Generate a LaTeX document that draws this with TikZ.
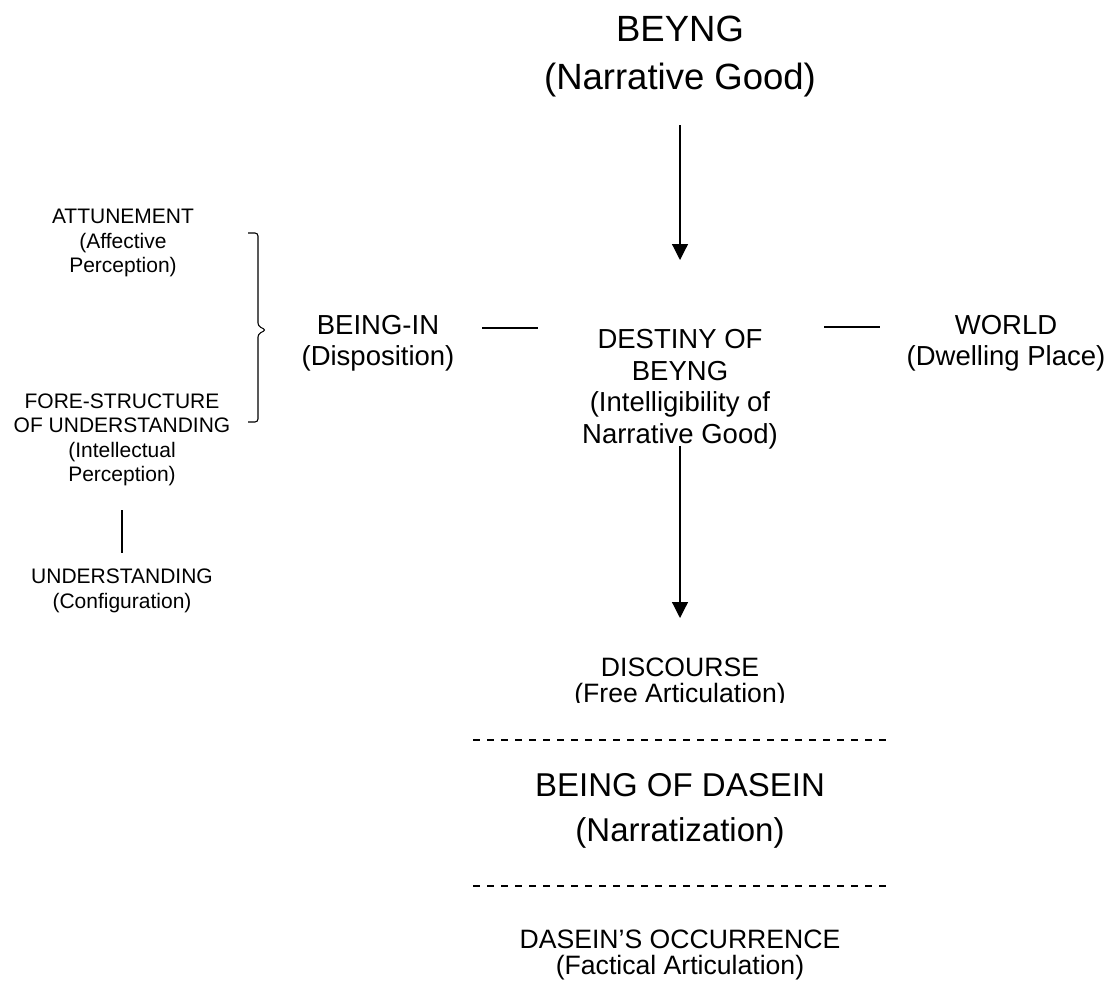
\documentclass[tikz,border=0pt]{standalone}
\usepackage{fontspec}
\setmainfont{Liberation Sans}
\usetikzlibrary{arrows.meta}

\begin{document}
\begin{tikzpicture}[x=1pt,y=-1pt,
  every node/.style={inner sep=0pt, outer sep=0pt, align=center},
  huge/.style={font=\fontsize{36.5}{48}\selectfont},
  large/.style={font=\fontsize{33}{45}\selectfont},
  medium/.style={font=\fontsize{27.5}{31.5}\selectfont},
  mid/.style={font=\fontsize{26.6}{26.5}\selectfont},
  small/.style={font=\fontsize{21}{24.5}\selectfont},
  link/.style={line width=1.2pt},
  flow/.style={line width=1.2pt, -{Triangle[width=16pt,length=16pt]}},
  divider/.style={line width=1.4pt, dash pattern=on 7pt off 7pt}]

\useasboundingbox (0,0) rectangle (1110,990);

% central column
\node[huge] (beyng) at (680,57) {BEYNG\\(Narrative Good)};
\node[medium] (destiny) at (680,389) {DESTINY OF\\BEYNG\\(Intelligibility of\\Narrative Good)};
\coordinate (a1s) at (680,125);
\coordinate (a1e) at (680,260);
\draw[flow] (a1s) -- (a1e);
\coordinate (a2s) at (680,446);
\coordinate (a2e) at (680,618);
\draw[flow] (a2s) -- (a2e);

% side nodes
\node[medium] (beingin) at (378,343) {BEING-IN\\(Disposition)};
\node[medium] (world) at (1006,343) {WORLD\\(Dwelling Place)};
\coordinate (l1) at (482,328);
\coordinate (l2) at (538,328);
\coordinate (r1) at (824,327);
\coordinate (r2) at (880,327);
\draw[link] (l1) -- (l2);
\draw[link] (r1) -- (r2);

% left column
\node[small] (attune) at (123,243) {ATTUNEMENT\\(Affective\\Perception)};
\node[small] (fore) at (122,440) {FORE-STRUCTURE\\OF UNDERSTANDING\\(Intellectual\\Perception)};
\node[small] (understand) at (122,591) {UNDERSTANDING\\(Configuration)};
\coordinate (v1) at (122,510);
\coordinate (v2) at (122,553);
\draw[link] (v1) -- (v2);

% brace joining attunement and fore-structure
\coordinate (bt) at (248,233);
\coordinate (bm) at (266,330);
\coordinate (bb) at (248,422);
\draw[line width=1.1pt, rounded corners=3pt]
  (bt) -- (258,233) -- (258,326) -- (bm) -- (258,334) -- (258,422) -- (bb);

% discourse, cut at the baseline of its second line
\begin{scope}
  \clip (400,600) rectangle (960,702.5);
  \node[mid] (discourse) at (680,683) {DISCOURSE\\(Free Articulation)};
\end{scope}

\coordinate (d1s) at (473,740);
\coordinate (d1e) at (887,740);
\draw[divider] (d1s) -- (d1e);

\node[large] (dasein) at (680,811) {BEING OF DASEIN\\(Narratization)};

\coordinate (d2s) at (473,886);
\coordinate (d2e) at (887,886);
\draw[divider] (d2s) -- (d2e);

\node[mid] (occur) at (680,955) {DASEIN’S OCCURRENCE\\(Factical Articulation)};
\end{tikzpicture}
\end{document}
